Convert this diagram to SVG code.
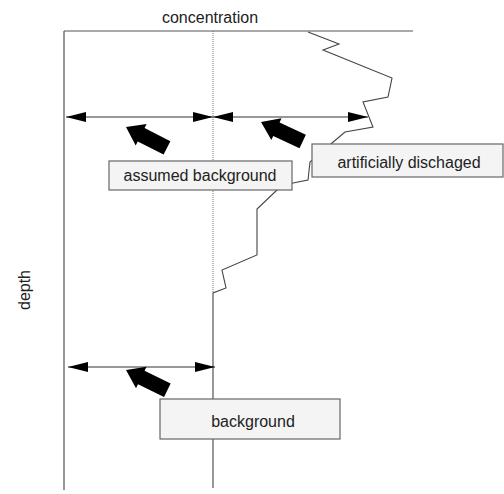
<svg xmlns="http://www.w3.org/2000/svg" width="504" height="494" viewBox="0 0 504 494">
<style>
  text { font-family: "Liberation Sans", Arial, sans-serif; font-size: 16px; fill: #222; }
  .axis { stroke: #555; stroke-width: 1.2; fill: none; }
  .curve { stroke: #444; stroke-width: 1.1; fill: none; stroke-linejoin: miter; }
  .dot { stroke: #777; stroke-width: 1; stroke-dasharray: 1 1; fill: none; }
  .box { fill: #f4f4f4; stroke: #666; stroke-width: 1.2; }
  .dim { stroke: #333; stroke-width: 1.2; fill: none; marker-start: url(#ah); marker-end: url(#ah); }
  .fat { fill: #000; }
</style>
<defs>
  <marker id="ah" viewBox="0 0 20 10" refX="20" refY="5" markerWidth="20" markerHeight="10" markerUnits="userSpaceOnUse" orient="auto-start-reverse">
    <path d="M0,0 L20,5 L0,10 Z" fill="#000"/>
  </marker>
  <polygon id="fat" points="0,0 -17,-12 -17,-7.5 -46,-7.5 -46,7.5 -17,7.5 -17,12"/>
</defs>

<!-- axes -->
<line class="axis" x1="64" y1="31" x2="413" y2="31"/>
<line class="axis" x1="64" y1="31" x2="64" y2="490"/>
<line class="dot" x1="213" y1="31" x2="213" y2="293"/>

<!-- concentration profile -->
<polyline class="curve" points="308,32 339,44 323,50 392,78 388,97 363,102 373,127 345,132 332,143 310,162 308,180 293,183 277,190 257,209 257,255 222,270 226,288 213,293 213,488"/>

<text x="210" y="23" text-anchor="middle">concentration</text>
<text transform="translate(30,290) rotate(-90)" text-anchor="middle">depth</text>

<g id="connectors">
  <line class="dim" x1="66" y1="117" x2="213" y2="117"/>
  <line class="dim" x1="213" y1="117" x2="368" y2="117"/>
  <line class="dim" x1="68" y1="367" x2="215" y2="367"/>
  <use href="#fat" class="fat" transform="translate(126,127) rotate(207)"/>
  <use href="#fat" class="fat" transform="translate(261,122) rotate(205)"/>
  <use href="#fat" class="fat" transform="translate(126,370) rotate(206)"/>
</g>

<g id="assumed-background">
  <rect class="box" x="109" y="161" width="183" height="29"/>
  <text x="200" y="181" text-anchor="middle">assumed background</text>
</g>

<g id="artificially-discharged">
  <rect class="box" x="312" y="144" width="191" height="33"/>
  <text x="409" y="168" text-anchor="middle">artificially dischaged</text>
</g>

<g id="background">
  <rect class="box" x="160" y="399" width="180" height="40"/>
  <text x="253" y="427" text-anchor="middle">background</text>
</g>
</svg>
